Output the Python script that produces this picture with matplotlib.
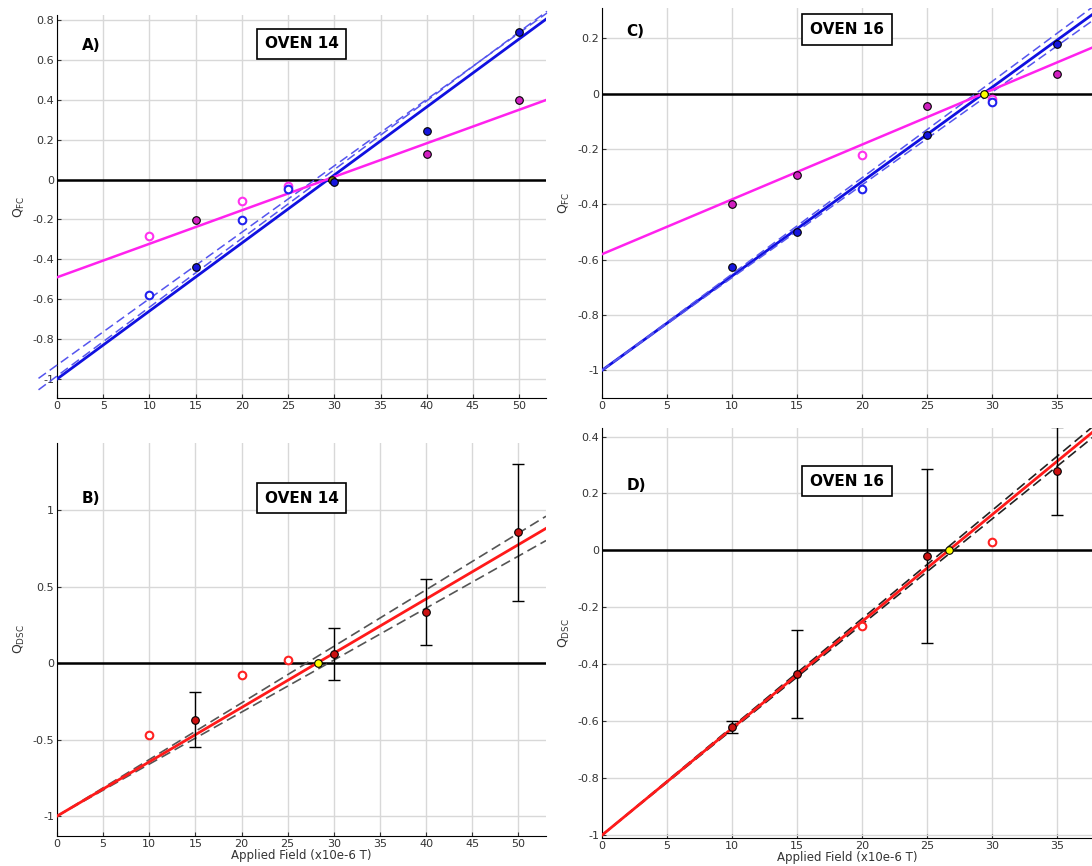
import matplotlib
matplotlib.use("Agg")
import matplotlib.pyplot as plt
import numpy as np

# Panel A (Oven 14, FC)
a_fill_blue_x = [15, 30, 40, 50]; a_fill_blue_y = [-0.44, -0.01, 0.245, 0.74]
a_fill_mag_x = [15, 40, 50]; a_fill_mag_y = [-0.205, 0.13, 0.40]
a_open_mag_x = [10, 20, 25]; a_open_mag_y = [-0.285, -0.105, -0.03]
a_open_blue_x = [10, 20, 25]; a_open_blue_y = [-0.58, -0.205, -0.048]
a_blue_fit = (-1.0, 0.0341); a_blue_dash = [(-0.93, 0.0333), (-0.985, 0.0345)]
a_mag_fit = (-0.49, 0.0168)
# Panel C (Oven 16, FC)
c_fill_blue_x = [10, 15, 25, 35]; c_fill_blue_y = [-0.625, -0.5, -0.148, 0.18]
c_fill_mag_x = [10, 15, 25, 35]; c_fill_mag_y = [-0.40, -0.295, -0.045, 0.07]
c_open_mag_x = [20, 30]; c_open_mag_y = [-0.22, -0.02]
c_open_blue_x = [20, 30]; c_open_blue_y = [-0.345, -0.03]
c_blue_fit = (-1.0, 0.0341); c_blue_dash = [(-1.0, 0.0335), (-1.0, 0.0348)]
c_mag_fit = (-0.58, 0.0198)
c_yellow = (29.4, 0.0)
# Panel B (Oven 14, DSC)
b_x = [15, 30, 40, 50]; b_y = [-0.37, 0.06, 0.335, 0.855]; b_err = [0.18, 0.17, 0.215, 0.445]
b_open_x = [10, 20, 25]; b_open_y = [-0.47, -0.075, 0.02]
b_fit = (-1.0, 0.0355); b_dash = [(-1.0, 0.0370), (-1.0, 0.0340)]
b_yellow = (28.3, 0.0)
# Panel D (Oven 16, DSC)
d_x = [10, 15, 25, 35]; d_y = [-0.62, -0.435, -0.02, 0.28]; d_err = [0.02, 0.155, 0.305, 0.155]
d_open_x = [20, 30]; d_open_y = [-0.265, 0.03]
d_fit = (-1.0, 0.0375); d_dash = [(-1.0, 0.0380), (-1.0, 0.0370)]
d_yellow = (26.7, 0.0)

fig = plt.figure(figsize=(10.92, 8.66), dpi=100)
W, H = 1092, 866
def ax_at(l, t, r, b):
    return fig.add_axes([l/W, 1-b/H, (r-l)/W, (b-t)/H])

axA = ax_at(57, 15, 546, 398)
axC = ax_at(602, 8, 1092, 398)
axB = ax_at(57, 443, 546, 836)
axD = ax_at(602, 428, 1092, 838)

def style(ax, xlim, ylim, yticks, ylabel_sub):
    ax.set_xlim(*xlim); ax.set_ylim(*ylim)
    ax.set_xticks(np.arange(0, xlim[1], 5))
    yticks = [round(v, 2) for v in yticks]
    ax.set_yticks(yticks)
    ax.set_yticklabels([('%g' % (0 if abs(v) < 1e-9 else v)) for v in yticks])
    ax.grid(True, color='#d8d8d8', lw=1)
    ax.set_axisbelow(True)
    ax.tick_params(labelsize=8, colors='#333333', direction='in', length=3, pad=2)
    for s in ['top', 'right']:
        ax.spines[s].set_visible(False)
    ax.axhline(0, color='black', lw=1.8, zorder=2)
    ax.set_ylabel(r'Q$_{\mathregular{%s}}$' % ylabel_sub, fontsize=9, color='#333333', labelpad=4)

def line(ax, p, xmax, **kw):
    xs = np.array([0, xmax])
    ax.plot(xs, p[0] + p[1]*xs, **kw)

def filled(ax, x, y, c):
    ax.scatter(x, y, s=30, c=c, edgecolors='black', linewidths=0.8, zorder=5)

def hollow(ax, x, y, c):
    ax.scatter(x, y, s=30, facecolors='white', edgecolors=c, linewidths=1.5, zorder=5)

def label(ax, txt, box, xt, yt, xb, yb):
    ax.text(xt, yt, txt, transform=ax.transAxes, fontsize=11, fontweight='bold', va='center')
    ax.text(xb, yb, box, transform=ax.transAxes, fontsize=11, fontweight='bold', va='center', ha='center',
            bbox=dict(boxstyle='square,pad=0.5', fc='white', ec='black', lw=1.2))

# A
style(axA, (0, 52.9), (-1.095, 0.825), np.arange(-1, 0.81, 0.2), 'FC')
line(axA, a_blue_fit, 53, color='#1010e0', lw=2, zorder=3)
for p in a_blue_dash:
    axA.plot([-2, 53], [p[0]+p[1]*-2, p[0]+p[1]*53], color='#5555ee', lw=1.1, ls=(0, (6, 3)), zorder=3, clip_on=False)
line(axA, a_mag_fit, 53, color='#ff22ee', lw=1.8, zorder=3)
filled(axA, a_fill_mag_x, a_fill_mag_y, '#d020c0')
filled(axA, [29.8], [0], '#808000')
filled(axA, a_fill_blue_x, a_fill_blue_y, '#1515dd')
hollow(axA, a_open_mag_x, a_open_mag_y, '#ff33ee')
hollow(axA, a_open_blue_x, a_open_blue_y, '#2222ee')
axA.set_xlim(0, 52.9)
label(axA, 'A)', 'OVEN 14', 0.05, 0.92, 0.50, 0.925)

# C
style(axC, (0, 37.7), (-1.1, 0.31), np.arange(-1, 0.21, 0.2), 'FC')
line(axC, c_blue_fit, 38, color='#1010e0', lw=2, zorder=3)
for p in c_blue_dash:
    line(axC, p, 38, color='#5555ee', lw=1.1, ls=(0, (6, 3)), zorder=3)
line(axC, c_mag_fit, 38, color='#ff22ee', lw=1.8, zorder=3)
filled(axC, c_fill_mag_x, c_fill_mag_y, '#d020c0')
filled(axC, c_fill_blue_x, c_fill_blue_y, '#1515dd')
hollow(axC, c_open_mag_x, c_open_mag_y, '#ff33ee')
hollow(axC, c_open_blue_x, c_open_blue_y, '#2222ee')
filled(axC, [c_yellow[0]], [c_yellow[1]], '#ffff00')
label(axC, 'C)', 'OVEN 16', 0.05, 0.94, 0.50, 0.945)

# B
style(axB, (0, 53), (-1.13, 1.44), [-1, -0.5, 0, 0.5, 1], 'DSC')
for p in b_dash:
    line(axB, p, 53, color='#555555', lw=1.2, ls=(0, (6, 3)), zorder=3)
line(axB, b_fit, 53, color='#ff1a1a', lw=2, zorder=3)
axB.errorbar(b_x, b_y, yerr=b_err, fmt='none', ecolor='black', elinewidth=1, capsize=4, zorder=4)
filled(axB, b_x, b_y, '#cc1111')
hollow(axB, b_open_x, b_open_y, '#ff2222')
filled(axB, [b_yellow[0]], [b_yellow[1]], '#ffff00')
axB.set_xlabel('Applied Field (x10e-6 T)', fontsize=8.5, color='#333333', labelpad=0)
label(axB, 'B)', 'OVEN 14', 0.05, 0.86, 0.50, 0.86)

# D
style(axD, (0, 37.7), (-1.01, 0.43), np.arange(-1, 0.41, 0.2), 'DSC')
for p in d_dash:
    line(axD, p, 38, color='#222222', lw=1.2, ls=(0, (6, 3)), zorder=3)
line(axD, d_fit, 38, color='#ff1a1a', lw=2, zorder=3)
axD.errorbar(d_x, d_y, yerr=d_err, fmt='none', ecolor='black', elinewidth=1, capsize=4, zorder=4)
filled(axD, d_x, d_y, '#cc1111')
hollow(axD, d_open_x, d_open_y, '#ff2222')
filled(axD, [d_yellow[0]], [d_yellow[1]], '#ffff00')
axD.set_xlabel('Applied Field (x10e-6 T)', fontsize=8.5, color='#333333', labelpad=0)
label(axD, 'D)', 'OVEN 16', 0.05, 0.86, 0.50, 0.87)

fig.savefig('out.png', dpi=100)
